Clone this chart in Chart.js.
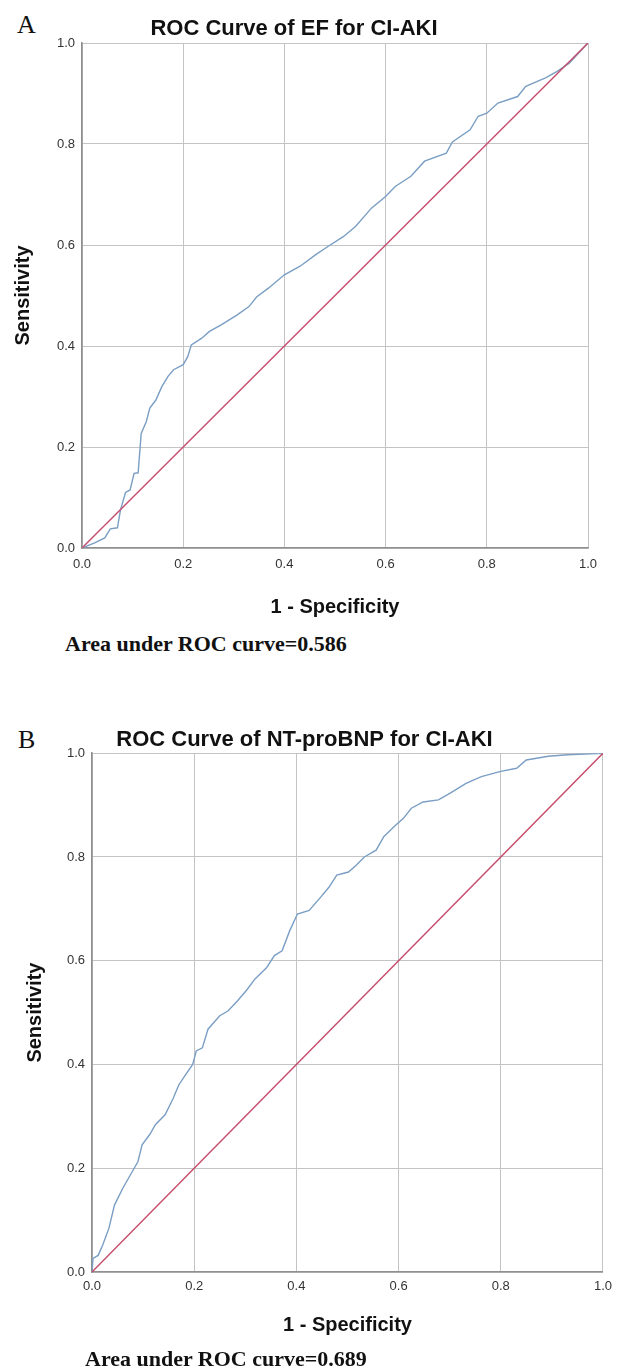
<!DOCTYPE html>
<html>
<head>
<meta charset="utf-8">
<script src="https://cdn.jsdelivr.net/npm/chart.js@4/dist/chart.umd.min.js"></script>
<style>
  html, body { margin: 0; padding: 0; background: #ffffff; }
  body { width: 619px; height: 1371px; position: relative; overflow: hidden; }
  canvas { position: absolute; left: 0; }
  .lab { position: absolute; font-family: "Liberation Serif", "Times New Roman", serif; color: #111; line-height: 1; white-space: nowrap; }
  .panel { font-size: 26px; }
  .auc { font-size: 22px; font-weight: bold; }
</style>
</head>
<body>
<div class="lab panel" style="left:17px; top:12px;">A</div>
<canvas id="chartA" width="619" height="625" style="top:0px;"></canvas>
<div class="lab auc" style="left:65px; top:633px;">Area under ROC curve=0.586</div>

<div class="lab panel" style="left:18px; top:727px;">B</div>
<canvas id="chartB" width="619" height="650" style="top:700px;"></canvas>
<div class="lab auc" style="left:85px; top:1348px;">Area under ROC curve=0.689</div>

<script>
// ---- data ----
const titleA = "ROC Curve of EF for CI-AKI";
const titleB = "ROC Curve of NT-proBNP for CI-AKI";
const xAxisTitle = "1 - Specificity";
const yAxisTitle = "Sensitivity";
const tickValues = [0.0, 0.2, 0.4, 0.6, 0.8, 1.0];

const refX = [0, 1];
const refY = [0, 1];

const efFpr = [0, 0.025, 0.045, 0.056, 0.07, 0.076, 0.086, 0.095, 0.103, 0.111, 0.117, 0.127, 0.134, 0.146, 0.158, 0.17, 0.181, 0.2, 0.209, 0.216, 0.236, 0.252, 0.275, 0.306, 0.33, 0.345, 0.369, 0.4, 0.431, 0.462, 0.486, 0.517, 0.541, 0.572, 0.6, 0.619, 0.65, 0.677, 0.72, 0.732, 0.767, 0.783, 0.8, 0.822, 0.861, 0.877, 0.916, 0.939, 0.963, 1];
const efTpr = [0, 0.01, 0.02, 0.038, 0.04, 0.075, 0.11, 0.115, 0.148, 0.149, 0.227, 0.25, 0.277, 0.293, 0.32, 0.34, 0.353, 0.363, 0.379, 0.402, 0.415, 0.429, 0.442, 0.461, 0.478, 0.497, 0.515, 0.541, 0.558, 0.581, 0.597, 0.617, 0.637, 0.673, 0.696, 0.716, 0.736, 0.766, 0.782, 0.804, 0.828, 0.855, 0.861, 0.881, 0.894, 0.914, 0.931, 0.944, 0.96, 1];

const bnpFpr = [0, 0.002, 0.012, 0.021, 0.033, 0.044, 0.06, 0.075, 0.09, 0.098, 0.113, 0.124, 0.143, 0.159, 0.17, 0.181, 0.197, 0.204, 0.216, 0.227, 0.25, 0.266, 0.285, 0.304, 0.319, 0.342, 0.357, 0.372, 0.387, 0.402, 0.425, 0.448, 0.464, 0.479, 0.502, 0.517, 0.533, 0.556, 0.571, 0.594, 0.609, 0.625, 0.648, 0.678, 0.701, 0.732, 0.762, 0.8, 0.831, 0.85, 0.893, 0.931, 1];
const bnpTpr = [0, 0.026, 0.032, 0.052, 0.084, 0.129, 0.161, 0.187, 0.213, 0.245, 0.265, 0.284, 0.303, 0.335, 0.361, 0.377, 0.4, 0.426, 0.432, 0.468, 0.494, 0.503, 0.523, 0.545, 0.565, 0.587, 0.61, 0.619, 0.658, 0.69, 0.697, 0.723, 0.742, 0.765, 0.771, 0.784, 0.8, 0.813, 0.839, 0.861, 0.874, 0.894, 0.906, 0.91, 0.923, 0.942, 0.955, 0.965, 0.971, 0.987, 0.994, 0.997, 1];

// ---- styling / builder ----
const SANS = '"Liberation Sans", Arial, sans-serif';
const curveColor = '#7a9ec4';
const refColor = '#c64c6c';
const gridColor = '#c4c4c4';
const axisColor = '#8f8f8f';

function toPoints(xs, ys) { return xs.map((x, i) => ({ x: x, y: ys[i] })); }

function makeChart(id, cfg) {
  return new Chart(document.getElementById(id), {
    type: 'scatter',
    data: {
      datasets: [
        { data: toPoints(refX, refY), showLine: true, borderColor: refColor, borderWidth: 1.4, pointRadius: 0, tension: 0 },
        { data: toPoints(cfg.fpr, cfg.tpr), showLine: true, borderColor: curveColor, borderWidth: 1.4, pointRadius: 0, tension: 0 }
      ]
    },
    options: {
      responsive: false,
      animation: false,
      devicePixelRatio: 1,
      layout: { padding: { top: 0, left: 0, right: cfg.padRight, bottom: cfg.padBottom } },
      plugins: {
        legend: { display: false },
        tooltip: { enabled: false },
        title: {
          display: true, text: cfg.title, color: '#111',
          font: { family: SANS, size: 22, weight: 'bold', lineHeight: 1.2 },
          padding: { top: cfg.titleTop, bottom: cfg.titleBottom }
        }
      },
      scales: {
        x: {
          type: 'linear', min: 0, max: 1,
          afterBuildTicks: (s) => { s.ticks = tickValues.map(v => ({ value: v })); },
          afterFit: (s) => { s.height = cfg.xHeight; },
          grid: { color: gridColor, lineWidth: 1, drawTicks: false },
          border: { display: true, color: axisColor, width: 1.6 },
          ticks: { padding: cfg.xTickPad, color: '#333', font: { family: SANS, size: 13, lineHeight: 1.2 }, callback: (v) => Number(v).toFixed(1), maxRotation: 0 },
          title: { display: true, text: xAxisTitle, color: '#111', font: { family: SANS, size: 20, weight: 'bold', lineHeight: 1.2 }, padding: { top: 0, bottom: 0 } }
        },
        y: {
          type: 'linear', min: 0, max: 1,
          afterBuildTicks: (s) => { s.ticks = tickValues.map(v => ({ value: v })); },
          afterFit: (s) => { s.width = cfg.yWidth; },
          grid: { color: gridColor, lineWidth: 1, drawTicks: false },
          border: { display: true, color: axisColor, width: 1.6 },
          ticks: { padding: 7, color: '#333', font: { family: SANS, size: 13, lineHeight: 1.2 }, callback: (v) => Number(v).toFixed(1) },
          title: { display: true, text: yAxisTitle, color: '#111', font: { family: SANS, size: 20, weight: 'bold', lineHeight: 1.2 }, padding: { top: cfg.yTitlePad, bottom: 0 } }
        }
      }
    }
  });
}

makeChart('chartA', {
  title: titleA, fpr: efFpr, tpr: efTpr,
  padRight: 31, padBottom: 6, titleTop: 15.8, titleBottom: 0.8,
  xHeight: 71, yWidth: 82, xTickPad: 9, yTitlePad: 11
});
makeChart('chartB', {
  title: titleB, fpr: bnpFpr, tpr: bnpTpr,
  padRight: 10, padBottom: 13, titleTop: 26.8, titleBottom: 0,
  xHeight: 65, yWidth: 92, xTickPad: 7, yTitlePad: 23
});
</script>
</body>
</html>
